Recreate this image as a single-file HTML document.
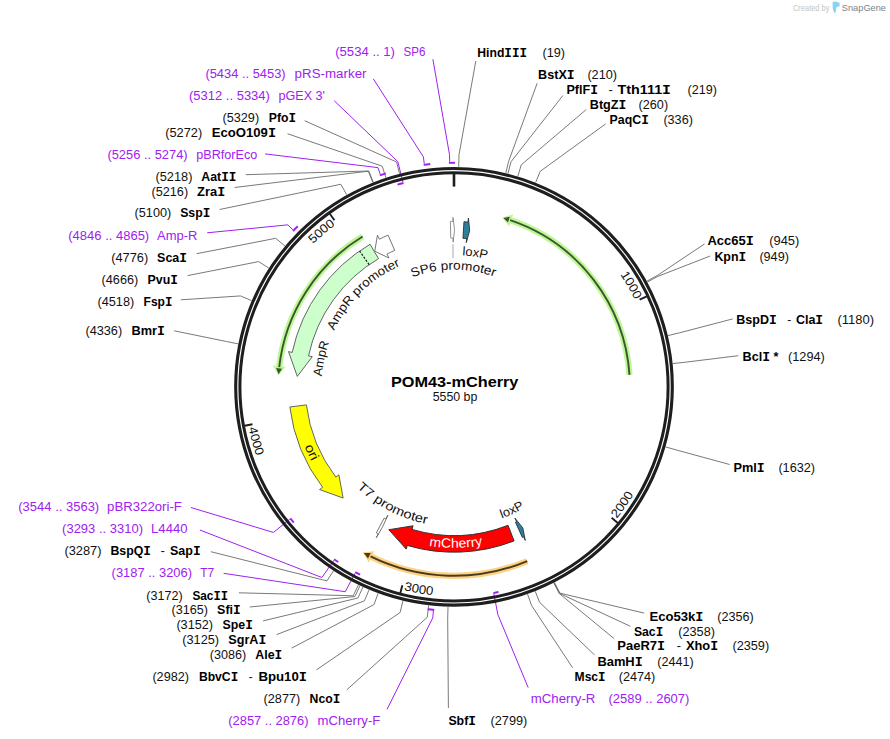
<!DOCTYPE html>
<html><head><meta charset="utf-8"><style>
html,body{margin:0;padding:0;background:#fff;width:890px;height:739px;overflow:hidden}
svg{display:block}
</style></head><body>
<svg width="890" height="739" viewBox="0 0 890 739">
<defs><path id="p1" d="M454.40,186.20 A200.60,200.60 0 0 1 627.52,487.45"/><path id="p2" d="M435.82,595.41 A209.40,209.40 0 0 0 643.75,298.24"/><path id="p3" d="M257.42,458.95 A209.40,209.40 0 0 0 614.77,520.96"/><path id="p4" d="M305.18,239.48 A209.40,209.40 0 0 0 400.83,589.34"/><path id="p5" d="M256.71,423.10 A200.60,200.60 0 0 1 521.21,197.79"/><path id="p6" d="M352.23,328.68 A117.20,117.20 0 0 1 555.22,327.72"/><path id="p7" d="M351.57,303.86 A131.80,131.80 0 0 1 577.05,339.57"/><path id="p8" d="M325.66,419.75 A132.50,132.50 0 0 1 489.63,259.18"/><path id="p9" d="M365.34,485.27 A132.50,132.50 0 0 1 413.06,260.79"/><path id="p10" d="M322.77,293.88 A160.80,160.80 0 0 0 439.15,546.91"/><path id="p11" d="M314.32,392.65 A139.80,139.80 0 0 0 528.91,504.84"/><path id="p12" d="M373.90,501.62 A140.00,140.00 0 0 0 593.49,398.76"/><path id="p13" d="M315.56,469.00 A161.00,161.00 0 0 0 594.40,465.59"/></defs>
<line x1="454.00" y1="173.80" x2="454.00" y2="186.60" stroke="#1e1e1e" stroke-width="2.6"/>
<line x1="646.83" y1="296.33" x2="639.59" y2="299.73" stroke="#1e1e1e" stroke-width="1.9"/>
<line x1="617.81" y1="522.94" x2="611.66" y2="517.83" stroke="#1e1e1e" stroke-width="1.9"/>
<line x1="400.33" y1="592.93" x2="402.34" y2="585.19" stroke="#1e1e1e" stroke-width="1.9"/>
<line x1="244.59" y1="425.76" x2="252.46" y2="424.30" stroke="#1e1e1e" stroke-width="1.9"/>
<line x1="329.78" y1="213.77" x2="334.44" y2="220.27" stroke="#1e1e1e" stroke-width="1.9"/>
<text font-family='"Liberation Sans", sans-serif' font-size="12.3" font-weight="normal" fill="#111" ><textPath href="#p1" startOffset="50%" text-anchor="middle" textLength="29.5" lengthAdjust="spacingAndGlyphs">1000</textPath></text>
<text font-family='"Liberation Sans", sans-serif' font-size="12.3" font-weight="normal" fill="#111" ><textPath href="#p2" startOffset="50%" text-anchor="middle" textLength="29.5" lengthAdjust="spacingAndGlyphs">2000</textPath></text>
<text font-family='"Liberation Sans", sans-serif' font-size="12.3" font-weight="normal" fill="#111" ><textPath href="#p3" startOffset="50%" text-anchor="middle" textLength="29.5" lengthAdjust="spacingAndGlyphs">3000</textPath></text>
<text font-family='"Liberation Sans", sans-serif' font-size="12.3" font-weight="normal" fill="#111" ><textPath href="#p4" startOffset="50%" text-anchor="middle" textLength="29.5" lengthAdjust="spacingAndGlyphs">4000</textPath></text>
<text font-family='"Liberation Sans", sans-serif' font-size="12.3" font-weight="normal" fill="#111" ><textPath href="#p5" startOffset="50%" text-anchor="middle" textLength="29.5" lengthAdjust="spacingAndGlyphs">5000</textPath></text>
<path d="M629.49,374.84 A175.90,175.90 0 0 0 510.10,220.09" fill="none" stroke="#bcf893" stroke-width="6.3"/>
<path d="M511.48,216.01 L504.11,218.19 L508.73,224.16 Z" fill="#bcf893" stroke="#bcf893" stroke-width="2.2" stroke-linejoin="miter"/>
<path d="M629.49,374.84 A175.90,175.90 0 0 0 510.10,220.09" fill="none" stroke="#3f5433" stroke-width="1.9"/>
<path d="M509.88,216.85 L503.37,217.97 L508.00,222.55 Z" fill="#3f5433"/>
<path d="M362.62,236.50 A175.90,175.90 0 0 0 279.20,367.19" fill="none" stroke="#bcf893" stroke-width="6.3"/>
<path d="M274.92,366.71 L278.61,373.46 L283.47,367.67 Z" fill="#bcf893" stroke="#bcf893" stroke-width="2.2" stroke-linejoin="miter"/>
<path d="M362.62,236.50 A175.90,175.90 0 0 0 279.20,367.19" fill="none" stroke="#3f5433" stroke-width="1.9"/>
<path d="M276.08,368.10 L278.55,374.22 L282.05,368.73 Z" fill="#3f5433"/>
<path d="M527.24,561.03 A189.00,189.00 0 0 1 370.56,556.38" fill="none" stroke="#fdd283" stroke-width="6.3"/>
<path d="M368.66,560.24 L364.54,553.29 L372.45,552.52 Z" fill="#fdd283" stroke="#fdd283" stroke-width="2.2" stroke-linejoin="miter"/>
<path d="M527.24,561.03 A189.00,189.00 0 0 1 370.56,556.38" fill="none" stroke="#4a3b1f" stroke-width="1.9"/>
<path d="M368.03,558.48 L363.82,552.90 L370.72,553.11 Z" fill="#4a3b1f"/>
<path d="M370.05,244.29 A165.40,165.40 0 0 0 292.21,352.41 L288.50,351.62 L297.30,376.39 L312.27,356.67 L308.55,355.88 A148.70,148.70 0 0 1 378.53,258.68 Z" fill="#ccffcc" stroke="#555" stroke-width="0.9" stroke-linejoin="miter"/>
<line x1="369.13" y1="264.70" x2="359.60" y2="250.98" stroke="#111" stroke-width="1.2" stroke-dasharray="2.2,1.5"/>
<path d="M388.05,235.12 A165.40,165.40 0 0 0 379.42,239.17 L377.44,235.24 L374.76,251.20 L388.94,258.00 L386.95,254.07 A148.70,148.70 0 0 1 394.71,250.43 Z" fill="#ffffff" stroke="#666" stroke-width="0.9" stroke-linejoin="miter"/>
<path d="M289.83,406.96 A165.40,165.40 0 0 0 322.60,487.26 L319.59,489.57 L343.14,498.04 L338.89,474.81 L335.87,477.12 A148.70,148.70 0 0 1 306.41,404.92 Z" fill="#ffff00" stroke="#555" stroke-width="0.9" stroke-linejoin="miter"/>
<path d="M514.08,540.90 A165.40,165.40 0 0 1 407.30,545.47 L406.23,549.12 L388.87,529.71 L413.09,525.80 L412.02,529.45 A148.70,148.70 0 0 0 508.02,525.34 Z" fill="#ff0000" stroke="#333" stroke-width="1.0" stroke-linejoin="miter"/>
<path d="M463.95,221.70 A165.40,165.40 0 0 1 468.06,222.00 L468.40,218.01 L469.73,230.54 L466.30,242.62 L466.64,238.64 A148.70,148.70 0 0 0 462.95,238.37 Z" fill="#2d7f9c" stroke="#222" stroke-width="0.8" stroke-linejoin="miter"/>
<path d="M450.39,221.44 A165.40,165.40 0 0 1 452.99,221.40 L452.96,217.40 L454.55,229.75 L453.11,242.10 L453.09,238.10 A148.70,148.70 0 0 0 450.76,238.14 Z" fill="#ffffff" stroke="#777" stroke-width="0.8" stroke-linejoin="miter"/>
<path d="M522.33,537.43 A165.40,165.40 0 0 0 523.59,536.85 L525.27,540.48 L522.85,527.96 L514.88,518.07 L516.56,521.70 A148.70,148.70 0 0 1 515.43,522.22 Z" fill="#2d7f9c" stroke="#222" stroke-width="0.8" stroke-linejoin="miter"/>
<path d="M376.35,532.84 A165.40,165.40 0 0 0 378.27,533.84 L376.30,537.67 L382.70,526.73 L387.88,515.17 L385.91,519.00 A148.70,148.70 0 0 1 384.19,518.09 Z" fill="#ffffff" stroke="#555" stroke-width="0.8" stroke-linejoin="miter"/>
<polyline points="458.73,166.85 458.99,154.85 475.80,61.00" fill="none" stroke="#6a6a6a" stroke-width="0.9"/>
<text x="477.30" y="57.00" font-family='"Liberation Sans", sans-serif' font-size="12.5" font-weight="bold" fill="#000" textLength="49.70" lengthAdjust="spacingAndGlyphs">Hind<tspan font-family='"Liberation Mono", monospace' font-size="12.9">I</tspan><tspan font-family='"Liberation Mono", monospace' font-size="12.9">I</tspan><tspan font-family='"Liberation Mono", monospace' font-size="12.9">I</tspan></text>
<text x="542.50" y="57.00" font-family='"Liberation Sans", sans-serif' font-size="12.5" font-weight="normal" fill="#111" textLength="22.50" lengthAdjust="spacingAndGlyphs">(19)</text>
<polyline points="505.81,172.99 508.64,161.33 537.20,83.20" fill="none" stroke="#6a6a6a" stroke-width="0.9"/>
<text x="538.10" y="78.90" font-family='"Liberation Sans", sans-serif' font-size="12.5" font-weight="bold" fill="#000" textLength="36.50" lengthAdjust="spacingAndGlyphs">BstX<tspan font-family='"Liberation Mono", monospace' font-size="12.9">I</tspan></text>
<text x="587.40" y="78.90" font-family='"Liberation Sans", sans-serif' font-size="12.5" font-weight="normal" fill="#111" textLength="29.60" lengthAdjust="spacingAndGlyphs">(210)</text>
<polyline points="507.99,173.53 510.93,161.89 562.90,95.50" fill="none" stroke="#6a6a6a" stroke-width="0.9"/>
<text x="566.40" y="94.00" font-family='"Liberation Sans", sans-serif' font-size="12.5" font-weight="bold" fill="#000" textLength="31.60" lengthAdjust="spacingAndGlyphs">PflF<tspan font-family='"Liberation Mono", monospace' font-size="12.9">I</tspan></text>
<text x="608.60" y="94.00" font-family='"Liberation Sans", sans-serif' font-size="12.5" font-weight="normal" fill="#111" textLength="4.20" lengthAdjust="spacingAndGlyphs">-</text>
<text x="617.50" y="94.00" font-family='"Liberation Sans", sans-serif' font-size="12.5" font-weight="bold" fill="#000" textLength="53.50" lengthAdjust="spacingAndGlyphs">Tth111<tspan font-family='"Liberation Mono", monospace' font-size="12.9">I</tspan></text>
<text x="687.60" y="94.00" font-family='"Liberation Sans", sans-serif' font-size="12.5" font-weight="normal" fill="#111" textLength="29.30" lengthAdjust="spacingAndGlyphs">(219)</text>
<polyline points="517.83,176.26 521.31,164.78 586.30,109.50" fill="none" stroke="#6a6a6a" stroke-width="0.9"/>
<text x="589.80" y="108.70" font-family='"Liberation Sans", sans-serif' font-size="12.5" font-weight="bold" fill="#000" textLength="36.50" lengthAdjust="spacingAndGlyphs">BtgZ<tspan font-family='"Liberation Mono", monospace' font-size="12.9">I</tspan></text>
<text x="638.60" y="108.70" font-family='"Liberation Sans", sans-serif' font-size="12.5" font-weight="normal" fill="#111" textLength="29.50" lengthAdjust="spacingAndGlyphs">(260)</text>
<polyline points="535.68,182.53 540.14,171.38 605.80,123.80" fill="none" stroke="#6a6a6a" stroke-width="0.9"/>
<text x="609.60" y="123.80" font-family='"Liberation Sans", sans-serif' font-size="12.5" font-weight="bold" fill="#000" textLength="39.20" lengthAdjust="spacingAndGlyphs">PaqC<tspan font-family='"Liberation Mono", monospace' font-size="12.9">I</tspan></text>
<text x="663.40" y="123.80" font-family='"Liberation Sans", sans-serif' font-size="12.5" font-weight="normal" fill="#111" textLength="29.50" lengthAdjust="spacingAndGlyphs">(336)</text>
<polyline points="646.97,281.14 657.49,275.38 704.60,243.90" fill="none" stroke="#6a6a6a" stroke-width="0.9"/>
<text x="707.40" y="245.30" font-family='"Liberation Sans", sans-serif' font-size="12.5" font-weight="bold" fill="#000" textLength="46.40" lengthAdjust="spacingAndGlyphs">Acc65<tspan font-family='"Liberation Mono", monospace' font-size="12.9">I</tspan></text>
<text x="769.20" y="245.30" font-family='"Liberation Sans", sans-serif' font-size="12.5" font-weight="normal" fill="#111" textLength="30.10" lengthAdjust="spacingAndGlyphs">(945)</text>
<polyline points="647.44,282.02 658.00,276.30 710.20,256.00" fill="none" stroke="#6a6a6a" stroke-width="0.9"/>
<text x="714.40" y="260.70" font-family='"Liberation Sans", sans-serif' font-size="12.5" font-weight="bold" fill="#000" textLength="31.80" lengthAdjust="spacingAndGlyphs">Kpn<tspan font-family='"Liberation Mono", monospace' font-size="12.9">I</tspan></text>
<text x="759.40" y="260.70" font-family='"Liberation Sans", sans-serif' font-size="12.5" font-weight="normal" fill="#111" textLength="29.50" lengthAdjust="spacingAndGlyphs">(949)</text>
<polyline points="667.96,335.59 679.63,332.80 732.70,318.90" fill="none" stroke="#6a6a6a" stroke-width="0.9"/>
<text x="736.30" y="324.00" font-family='"Liberation Sans", sans-serif' font-size="12.5" font-weight="bold" fill="#000" textLength="40.50" lengthAdjust="spacingAndGlyphs">BspD<tspan font-family='"Liberation Mono", monospace' font-size="12.9">I</tspan></text>
<text x="787.30" y="324.00" font-family='"Liberation Sans", sans-serif' font-size="12.5" font-weight="normal" fill="#111" textLength="4.00" lengthAdjust="spacingAndGlyphs">-</text>
<text x="795.90" y="324.00" font-family='"Liberation Sans", sans-serif' font-size="12.5" font-weight="bold" fill="#000" textLength="27.20" lengthAdjust="spacingAndGlyphs">Cla<tspan font-family='"Liberation Mono", monospace' font-size="12.9">I</tspan></text>
<text x="837.50" y="324.00" font-family='"Liberation Sans", sans-serif' font-size="12.5" font-weight="normal" fill="#111" textLength="36.50" lengthAdjust="spacingAndGlyphs">(1180)</text>
<polyline points="672.77,363.56 684.70,362.29 738.30,355.70" fill="none" stroke="#6a6a6a" stroke-width="0.9"/>
<text x="742.50" y="361.30" font-family='"Liberation Sans", sans-serif' font-size="12.5" font-weight="bold" fill="#000" textLength="36.00" lengthAdjust="spacingAndGlyphs">Bcl<tspan font-family='"Liberation Mono", monospace' font-size="12.9">I</tspan> *</text>
<text x="788.00" y="361.30" font-family='"Liberation Sans", sans-serif' font-size="12.5" font-weight="normal" fill="#111" textLength="36.80" lengthAdjust="spacingAndGlyphs">(1294)</text>
<polyline points="665.63,446.92 677.17,450.20 729.70,464.50" fill="none" stroke="#6a6a6a" stroke-width="0.9"/>
<text x="733.50" y="471.50" font-family='"Liberation Sans", sans-serif' font-size="12.5" font-weight="bold" fill="#000" textLength="31.20" lengthAdjust="spacingAndGlyphs">Pml<tspan font-family='"Liberation Mono", monospace' font-size="12.9">I</tspan></text>
<text x="778.40" y="471.50" font-family='"Liberation Sans", sans-serif' font-size="12.5" font-weight="normal" fill="#111" textLength="36.70" lengthAdjust="spacingAndGlyphs">(1632)</text>
<polyline points="554.49,582.51 559.97,593.18 644.20,613.10" fill="none" stroke="#6a6a6a" stroke-width="0.9"/>
<text x="649.40" y="621.00" font-family='"Liberation Sans", sans-serif' font-size="12.5" font-weight="bold" fill="#000" textLength="54.10" lengthAdjust="spacingAndGlyphs">Eco53k<tspan font-family='"Liberation Mono", monospace' font-size="12.9">I</tspan></text>
<text x="717.20" y="621.00" font-family='"Liberation Sans", sans-serif' font-size="12.5" font-weight="normal" fill="#111" textLength="36.50" lengthAdjust="spacingAndGlyphs">(2356)</text>
<polyline points="554.04,582.74 559.50,593.42 630.40,626.30" fill="none" stroke="#6a6a6a" stroke-width="0.9"/>
<text x="633.90" y="635.60" font-family='"Liberation Sans", sans-serif' font-size="12.5" font-weight="bold" fill="#000" textLength="29.30" lengthAdjust="spacingAndGlyphs">Sac<tspan font-family='"Liberation Mono", monospace' font-size="12.9">I</tspan></text>
<text x="678.30" y="635.60" font-family='"Liberation Sans", sans-serif' font-size="12.5" font-weight="normal" fill="#111" textLength="36.60" lengthAdjust="spacingAndGlyphs">(2358)</text>
<polyline points="553.82,582.85 559.27,593.54 614.10,638.60" fill="none" stroke="#6a6a6a" stroke-width="0.9"/>
<text x="617.30" y="650.20" font-family='"Liberation Sans", sans-serif' font-size="12.5" font-weight="bold" fill="#000" textLength="47.90" lengthAdjust="spacingAndGlyphs">PaeR7<tspan font-family='"Liberation Mono", monospace' font-size="12.9">I</tspan></text>
<text x="676.70" y="650.20" font-family='"Liberation Sans", sans-serif' font-size="12.5" font-weight="normal" fill="#111" textLength="4.20" lengthAdjust="spacingAndGlyphs">-</text>
<text x="685.90" y="650.20" font-family='"Liberation Sans", sans-serif' font-size="12.5" font-weight="bold" fill="#000" textLength="32.20" lengthAdjust="spacingAndGlyphs">Xho<tspan font-family='"Liberation Mono", monospace' font-size="12.9">I</tspan></text>
<text x="732.40" y="650.20" font-family='"Liberation Sans", sans-serif' font-size="12.5" font-weight="normal" fill="#111" textLength="36.80" lengthAdjust="spacingAndGlyphs">(2359)</text>
<polyline points="535.22,591.26 539.65,602.41 594.50,654.90" fill="none" stroke="#6a6a6a" stroke-width="0.9"/>
<text x="597.40" y="665.70" font-family='"Liberation Sans", sans-serif' font-size="12.5" font-weight="bold" fill="#000" textLength="45.30" lengthAdjust="spacingAndGlyphs">BamH<tspan font-family='"Liberation Mono", monospace' font-size="12.9">I</tspan></text>
<text x="657.30" y="665.70" font-family='"Liberation Sans", sans-serif' font-size="12.5" font-weight="normal" fill="#111" textLength="36.50" lengthAdjust="spacingAndGlyphs">(2441)</text>
<polyline points="527.53,594.15 531.54,605.46 572.60,667.80" fill="none" stroke="#6a6a6a" stroke-width="0.9"/>
<text x="574.60" y="680.90" font-family='"Liberation Sans", sans-serif' font-size="12.5" font-weight="bold" fill="#000" textLength="31.00" lengthAdjust="spacingAndGlyphs">Msc<tspan font-family='"Liberation Mono", monospace' font-size="12.9">I</tspan></text>
<text x="618.70" y="680.90" font-family='"Liberation Sans", sans-serif' font-size="12.5" font-weight="normal" fill="#111" textLength="36.60" lengthAdjust="spacingAndGlyphs">(2474)</text>
<polyline points="448.02,606.72 447.70,618.71 448.40,708.00" fill="none" stroke="#6a6a6a" stroke-width="0.9"/>
<text x="448.40" y="724.90" font-family='"Liberation Sans", sans-serif' font-size="12.5" font-weight="bold" fill="#000" textLength="27.50" lengthAdjust="spacingAndGlyphs">Sbf<tspan font-family='"Liberation Mono", monospace' font-size="12.9">I</tspan></text>
<text x="490.50" y="724.90" font-family='"Liberation Sans", sans-serif' font-size="12.5" font-weight="normal" fill="#111" textLength="36.80" lengthAdjust="spacingAndGlyphs">(2799)</text>
<polyline points="428.65,605.33 427.27,617.25 346.70,689.90" fill="none" stroke="#6a6a6a" stroke-width="0.9"/>
<text x="263.60" y="702.70" font-family='"Liberation Sans", sans-serif' font-size="12.5" font-weight="normal" fill="#111" textLength="36.60" lengthAdjust="spacingAndGlyphs">(2877)</text>
<text x="309.60" y="702.70" font-family='"Liberation Sans", sans-serif' font-size="12.5" font-weight="bold" fill="#000" textLength="30.70" lengthAdjust="spacingAndGlyphs">Nco<tspan font-family='"Liberation Mono", monospace' font-size="12.9">I</tspan></text>
<polyline points="402.91,600.79 400.13,612.46 316.40,669.90" fill="none" stroke="#6a6a6a" stroke-width="0.9"/>
<text x="152.40" y="680.70" font-family='"Liberation Sans", sans-serif' font-size="12.5" font-weight="normal" fill="#111" textLength="36.60" lengthAdjust="spacingAndGlyphs">(2982)</text>
<text x="198.90" y="680.70" font-family='"Liberation Sans", sans-serif' font-size="12.5" font-weight="bold" fill="#000" textLength="39.30" lengthAdjust="spacingAndGlyphs">BbvC<tspan font-family='"Liberation Mono", monospace' font-size="12.9">I</tspan></text>
<text x="248.80" y="680.70" font-family='"Liberation Sans", sans-serif' font-size="12.5" font-weight="normal" fill="#111" textLength="3.80" lengthAdjust="spacingAndGlyphs">-</text>
<text x="258.40" y="680.70" font-family='"Liberation Sans", sans-serif' font-size="12.5" font-weight="bold" fill="#000" textLength="48.60" lengthAdjust="spacingAndGlyphs">Bpu10<tspan font-family='"Liberation Mono", monospace' font-size="12.9">I</tspan></text>
<polyline points="378.13,593.30 373.99,604.57 291.70,648.10" fill="none" stroke="#6a6a6a" stroke-width="0.9"/>
<text x="209.70" y="658.70" font-family='"Liberation Sans", sans-serif' font-size="12.5" font-weight="normal" fill="#111" textLength="36.40" lengthAdjust="spacingAndGlyphs">(3086)</text>
<text x="255.30" y="658.70" font-family='"Liberation Sans", sans-serif' font-size="12.5" font-weight="bold" fill="#000" textLength="26.90" lengthAdjust="spacingAndGlyphs">Ale<tspan font-family='"Liberation Mono", monospace' font-size="12.9">I</tspan></text>
<polyline points="369.09,589.75 364.46,600.82 276.60,634.60" fill="none" stroke="#6a6a6a" stroke-width="0.9"/>
<text x="182.20" y="643.60" font-family='"Liberation Sans", sans-serif' font-size="12.5" font-weight="normal" fill="#111" textLength="36.90" lengthAdjust="spacingAndGlyphs">(3125)</text>
<text x="228.30" y="643.60" font-family='"Liberation Sans", sans-serif' font-size="12.5" font-weight="bold" fill="#000" textLength="38.00" lengthAdjust="spacingAndGlyphs">SgrA<tspan font-family='"Liberation Mono", monospace' font-size="12.9">I</tspan></text>
<polyline points="362.93,587.06 357.96,597.99 263.10,620.90" fill="none" stroke="#6a6a6a" stroke-width="0.9"/>
<text x="176.40" y="628.80" font-family='"Liberation Sans", sans-serif' font-size="12.5" font-weight="normal" fill="#111" textLength="36.60" lengthAdjust="spacingAndGlyphs">(3152)</text>
<text x="222.50" y="628.80" font-family='"Liberation Sans", sans-serif' font-size="12.5" font-weight="bold" fill="#000" textLength="30.30" lengthAdjust="spacingAndGlyphs">Spe<tspan font-family='"Liberation Mono", monospace' font-size="12.9">I</tspan></text>
<polyline points="359.99,585.70 354.86,596.55 249.70,607.00" fill="none" stroke="#6a6a6a" stroke-width="0.9"/>
<text x="171.50" y="614.20" font-family='"Liberation Sans", sans-serif' font-size="12.5" font-weight="normal" fill="#111" textLength="36.40" lengthAdjust="spacingAndGlyphs">(3165)</text>
<text x="217.10" y="614.20" font-family='"Liberation Sans", sans-serif' font-size="12.5" font-weight="bold" fill="#000" textLength="23.60" lengthAdjust="spacingAndGlyphs">Sfi<tspan font-family='"Liberation Mono", monospace' font-size="12.9">I</tspan></text>
<polyline points="358.42,584.95 353.20,595.76 238.90,592.80" fill="none" stroke="#6a6a6a" stroke-width="0.9"/>
<text x="146.30" y="599.60" font-family='"Liberation Sans", sans-serif' font-size="12.5" font-weight="normal" fill="#111" textLength="36.40" lengthAdjust="spacingAndGlyphs">(3172)</text>
<text x="192.40" y="599.60" font-family='"Liberation Sans", sans-serif' font-size="12.5" font-weight="bold" fill="#000" textLength="35.70" lengthAdjust="spacingAndGlyphs">Sac<tspan font-family='"Liberation Mono", monospace' font-size="12.9">I</tspan><tspan font-family='"Liberation Mono", monospace' font-size="12.9">I</tspan></text>
<polyline points="333.50,570.87 326.93,580.91 210.80,551.70" fill="none" stroke="#6a6a6a" stroke-width="0.9"/>
<text x="64.40" y="554.70" font-family='"Liberation Sans", sans-serif' font-size="12.5" font-weight="normal" fill="#111" textLength="37.10" lengthAdjust="spacingAndGlyphs">(3287)</text>
<text x="110.40" y="554.70" font-family='"Liberation Sans", sans-serif' font-size="12.5" font-weight="bold" fill="#000" textLength="40.50" lengthAdjust="spacingAndGlyphs">BspQ<tspan font-family='"Liberation Mono", monospace' font-size="12.9">I</tspan></text>
<text x="160.60" y="554.70" font-family='"Liberation Sans", sans-serif' font-size="12.5" font-weight="normal" fill="#111" textLength="4.40" lengthAdjust="spacingAndGlyphs">-</text>
<text x="170.00" y="554.70" font-family='"Liberation Sans", sans-serif' font-size="12.5" font-weight="bold" fill="#000" textLength="30.70" lengthAdjust="spacingAndGlyphs">Sap<tspan font-family='"Liberation Mono", monospace' font-size="12.9">I</tspan></text>
<polyline points="238.23,343.86 226.46,341.52 174.20,330.80" fill="none" stroke="#6a6a6a" stroke-width="0.9"/>
<text x="85.40" y="335.10" font-family='"Liberation Sans", sans-serif' font-size="12.5" font-weight="normal" fill="#111" textLength="36.80" lengthAdjust="spacingAndGlyphs">(4336)</text>
<text x="131.50" y="335.10" font-family='"Liberation Sans", sans-serif' font-size="12.5" font-weight="bold" fill="#000" textLength="33.40" lengthAdjust="spacingAndGlyphs">Bmr<tspan font-family='"Liberation Mono", monospace' font-size="12.9">I</tspan></text>
<polyline points="251.58,300.63 240.54,295.93 180.90,299.80" fill="none" stroke="#6a6a6a" stroke-width="0.9"/>
<text x="97.50" y="306.10" font-family='"Liberation Sans", sans-serif' font-size="12.5" font-weight="normal" fill="#111" textLength="36.70" lengthAdjust="spacingAndGlyphs">(4518)</text>
<text x="143.60" y="306.10" font-family='"Liberation Sans", sans-serif' font-size="12.5" font-weight="bold" fill="#000" textLength="28.80" lengthAdjust="spacingAndGlyphs">Fsp<tspan font-family='"Liberation Mono", monospace' font-size="12.9">I</tspan></text>
<polyline points="268.78,268.08 258.68,261.60 187.60,275.60" fill="none" stroke="#6a6a6a" stroke-width="0.9"/>
<text x="101.60" y="283.70" font-family='"Liberation Sans", sans-serif' font-size="12.5" font-weight="normal" fill="#111" textLength="36.60" lengthAdjust="spacingAndGlyphs">(4666)</text>
<text x="147.60" y="283.70" font-family='"Liberation Sans", sans-serif' font-size="12.5" font-weight="bold" fill="#000" textLength="30.40" lengthAdjust="spacingAndGlyphs">Pvu<tspan font-family='"Liberation Mono", monospace' font-size="12.9">I</tspan></text>
<polyline points="284.96,245.99 275.74,238.31 196.60,253.70" fill="none" stroke="#6a6a6a" stroke-width="0.9"/>
<text x="111.20" y="262.00" font-family='"Liberation Sans", sans-serif' font-size="12.5" font-weight="normal" fill="#111" textLength="37.10" lengthAdjust="spacingAndGlyphs">(4776)</text>
<text x="157.10" y="262.00" font-family='"Liberation Sans", sans-serif' font-size="12.5" font-weight="bold" fill="#000" textLength="29.90" lengthAdjust="spacingAndGlyphs">Sca<tspan font-family='"Liberation Mono", monospace' font-size="12.9">I</tspan></text>
<polyline points="346.71,194.74 340.85,184.26 219.60,209.50" fill="none" stroke="#6a6a6a" stroke-width="0.9"/>
<text x="134.60" y="217.40" font-family='"Liberation Sans", sans-serif' font-size="12.5" font-weight="normal" fill="#111" textLength="36.60" lengthAdjust="spacingAndGlyphs">(5100)</text>
<text x="180.20" y="217.40" font-family='"Liberation Sans", sans-serif' font-size="12.5" font-weight="bold" fill="#000" textLength="30.10" lengthAdjust="spacingAndGlyphs">Ssp<tspan font-family='"Liberation Mono", monospace' font-size="12.9">I</tspan></text>
<polyline points="372.78,182.34 368.35,171.19 234.60,187.50" fill="none" stroke="#6a6a6a" stroke-width="0.9"/>
<text x="151.50" y="196.00" font-family='"Liberation Sans", sans-serif' font-size="12.5" font-weight="normal" fill="#111" textLength="36.60" lengthAdjust="spacingAndGlyphs">(5216)</text>
<text x="197.10" y="196.00" font-family='"Liberation Sans", sans-serif' font-size="12.5" font-weight="bold" fill="#000" textLength="28.10" lengthAdjust="spacingAndGlyphs">Zra<tspan font-family='"Liberation Mono", monospace' font-size="12.9">I</tspan></text>
<polyline points="373.24,182.16 368.84,171.00 245.80,174.70" fill="none" stroke="#6a6a6a" stroke-width="0.9"/>
<text x="155.50" y="181.20" font-family='"Liberation Sans", sans-serif' font-size="12.5" font-weight="normal" fill="#111" textLength="36.90" lengthAdjust="spacingAndGlyphs">(5218)</text>
<text x="201.30" y="181.20" font-family='"Liberation Sans", sans-serif' font-size="12.5" font-weight="bold" fill="#000" textLength="35.10" lengthAdjust="spacingAndGlyphs">Aat<tspan font-family='"Liberation Mono", monospace' font-size="12.9">I</tspan><tspan font-family='"Liberation Mono", monospace' font-size="12.9">I</tspan></text>
<polyline points="385.90,177.61 382.18,166.20 287.50,133.70" fill="none" stroke="#6a6a6a" stroke-width="0.9"/>
<text x="165.20" y="136.90" font-family='"Liberation Sans", sans-serif' font-size="12.5" font-weight="normal" fill="#111" textLength="37.00" lengthAdjust="spacingAndGlyphs">(5272)</text>
<text x="211.70" y="136.90" font-family='"Liberation Sans", sans-serif' font-size="12.5" font-weight="bold" fill="#000" textLength="64.40" lengthAdjust="spacingAndGlyphs">EcoO109<tspan font-family='"Liberation Mono", monospace' font-size="12.9">I</tspan></text>
<polyline points="399.53,173.65 396.56,162.02 304.70,120.70" fill="none" stroke="#6a6a6a" stroke-width="0.9"/>
<text x="222.50" y="121.90" font-family='"Liberation Sans", sans-serif' font-size="12.5" font-weight="normal" fill="#111" textLength="36.60" lengthAdjust="spacingAndGlyphs">(5329)</text>
<text x="268.80" y="121.90" font-family='"Liberation Sans", sans-serif' font-size="12.5" font-weight="bold" fill="#000" textLength="27.20" lengthAdjust="spacingAndGlyphs">Pfo<tspan font-family='"Liberation Mono", monospace' font-size="12.9">I</tspan></text>
<path d="M448.91,162.86 A224.00,224.00 0 0 1 455.04,162.80" fill="none" stroke="#a020f0" stroke-width="1.9"/>
<polyline points="449.67,161.84 449.54,154.84 432.90,59.30" fill="none" stroke="#a020f0" stroke-width="1.0"/>
<text x="335.20" y="56.00" font-family='"Liberation Sans", sans-serif' font-size="12.5" font-weight="normal" fill="#a020f0" textLength="59.80" lengthAdjust="spacingAndGlyphs">(5534 .. 1)</text>
<text x="403.50" y="56.00" font-family='"Liberation Sans", sans-serif' font-size="12.5" font-weight="normal" fill="#a020f0" textLength="21.90" lengthAdjust="spacingAndGlyphs">SP6</text>
<path d="M423.64,164.87 A224.00,224.00 0 0 1 430.23,164.06" fill="none" stroke="#a020f0" stroke-width="1.9"/>
<polyline points="424.28,163.77 423.36,156.83 373.30,78.80" fill="none" stroke="#a020f0" stroke-width="1.0"/>
<text x="205.40" y="78.00" font-family='"Liberation Sans", sans-serif' font-size="12.5" font-weight="normal" fill="#a020f0" textLength="80.20" lengthAdjust="spacingAndGlyphs">(5434 .. 5453)</text>
<text x="294.60" y="78.00" font-family='"Liberation Sans", sans-serif' font-size="12.5" font-weight="normal" fill="#a020f0" textLength="71.90" lengthAdjust="spacingAndGlyphs">pRS-marker</text>
<path d="M397.52,184.54 A210.00,210.00 0 0 1 403.51,182.96" fill="none" stroke="#a020f0" stroke-width="1.9"/>
<polyline points="402.92,182.08 397.83,161.70 334.20,100.70" fill="none" stroke="#a020f0" stroke-width="1.0"/>
<text x="189.00" y="99.80" font-family='"Liberation Sans", sans-serif' font-size="12.5" font-weight="normal" fill="#a020f0" textLength="80.90" lengthAdjust="spacingAndGlyphs">(5312 .. 5334)</text>
<text x="278.40" y="99.80" font-family='"Liberation Sans", sans-serif' font-size="12.5" font-weight="normal" fill="#a020f0" textLength="46.60" lengthAdjust="spacingAndGlyphs">pGEX 3'</text>
<path d="M379.84,175.43 A224.00,224.00 0 0 1 385.89,173.41" fill="none" stroke="#a020f0" stroke-width="1.9"/>
<polyline points="380.25,174.23 377.95,167.62 265.10,153.90" fill="none" stroke="#a020f0" stroke-width="1.0"/>
<text x="107.40" y="159.20" font-family='"Liberation Sans", sans-serif' font-size="12.5" font-weight="normal" fill="#a020f0" textLength="80.20" lengthAdjust="spacingAndGlyphs">(5256 .. 5274)</text>
<text x="196.20" y="159.20" font-family='"Liberation Sans", sans-serif' font-size="12.5" font-weight="normal" fill="#a020f0" textLength="61.10" lengthAdjust="spacingAndGlyphs">pBRforEco</text>
<path d="M293.06,231.00 A224.00,224.00 0 0 1 297.74,226.30" fill="none" stroke="#a020f0" stroke-width="1.9"/>
<polyline points="292.89,229.74 287.88,224.85 207.20,232.80" fill="none" stroke="#a020f0" stroke-width="1.0"/>
<text x="68.30" y="240.20" font-family='"Liberation Sans", sans-serif' font-size="12.5" font-weight="normal" fill="#a020f0" textLength="80.90" lengthAdjust="spacingAndGlyphs">(4846 .. 4865)</text>
<text x="157.10" y="240.20" font-family='"Liberation Sans", sans-serif' font-size="12.5" font-weight="normal" fill="#a020f0" textLength="40.40" lengthAdjust="spacingAndGlyphs">Amp-R</text>
<path d="M293.80,522.58 A210.00,210.00 0 0 1 290.31,518.35" fill="none" stroke="#a020f0" stroke-width="1.9"/>
<polyline points="289.76,519.26 273.41,532.44 190.90,507.50" fill="none" stroke="#a020f0" stroke-width="1.0"/>
<text x="18.30" y="511.30" font-family='"Liberation Sans", sans-serif' font-size="12.5" font-weight="normal" fill="#a020f0" textLength="80.90" lengthAdjust="spacingAndGlyphs">(3544 .. 3563)</text>
<text x="107.10" y="511.30" font-family='"Liberation Sans", sans-serif' font-size="12.5" font-weight="normal" fill="#a020f0" textLength="74.80" lengthAdjust="spacingAndGlyphs">pBR322ori-F</text>
<path d="M338.29,562.05 A210.00,210.00 0 0 1 334.14,559.24" fill="none" stroke="#a020f0" stroke-width="1.9"/>
<polyline points="333.87,560.27 321.92,577.53 199.90,530.00" fill="none" stroke="#a020f0" stroke-width="1.0"/>
<text x="62.10" y="532.70" font-family='"Liberation Sans", sans-serif' font-size="12.5" font-weight="normal" fill="#a020f0" textLength="80.90" lengthAdjust="spacingAndGlyphs">(3293 .. 3310)</text>
<text x="151.10" y="532.70" font-family='"Liberation Sans", sans-serif' font-size="12.5" font-weight="normal" fill="#a020f0" textLength="36.40" lengthAdjust="spacingAndGlyphs">L4440</text>
<path d="M360.10,574.64 A210.00,210.00 0 0 1 355.23,572.12" fill="none" stroke="#a020f0" stroke-width="1.9"/>
<polyline points="355.08,573.18 345.24,591.73 223.60,573.30" fill="none" stroke="#a020f0" stroke-width="1.0"/>
<text x="111.60" y="576.60" font-family='"Liberation Sans", sans-serif' font-size="12.5" font-weight="normal" fill="#a020f0" textLength="80.40" lengthAdjust="spacingAndGlyphs">(3187 .. 3206)</text>
<text x="200.20" y="576.60" font-family='"Liberation Sans", sans-serif' font-size="12.5" font-weight="normal" fill="#a020f0" textLength="14.00" lengthAdjust="spacingAndGlyphs">T7</text>
<path d="M434.27,609.93 A224.00,224.00 0 0 1 427.67,609.25" fill="none" stroke="#a020f0" stroke-width="1.9"/>
<polyline points="433.40,610.85 432.76,617.83 387.00,709.40" fill="none" stroke="#a020f0" stroke-width="1.0"/>
<text x="228.30" y="724.90" font-family='"Liberation Sans", sans-serif' font-size="12.5" font-weight="normal" fill="#a020f0" textLength="80.20" lengthAdjust="spacingAndGlyphs">(2857 .. 2876)</text>
<text x="317.50" y="724.90" font-family='"Liberation Sans", sans-serif' font-size="12.5" font-weight="normal" fill="#a020f0" textLength="62.80" lengthAdjust="spacingAndGlyphs">mCherry-F</text>
<path d="M498.48,592.03 A210.00,210.00 0 0 1 493.34,593.08" fill="none" stroke="#a020f0" stroke-width="1.9"/>
<polyline points="493.89,594.00 497.86,614.62 528.20,687.60" fill="none" stroke="#a020f0" stroke-width="1.0"/>
<text x="530.80" y="702.80" font-family='"Liberation Sans", sans-serif' font-size="12.5" font-weight="normal" fill="#a020f0" textLength="64.60" lengthAdjust="spacingAndGlyphs">mCherry-R</text>
<text x="608.50" y="702.80" font-family='"Liberation Sans", sans-serif' font-size="12.5" font-weight="normal" fill="#a020f0" textLength="80.90" lengthAdjust="spacingAndGlyphs">(2589 .. 2607)</text>
<circle cx="454.0" cy="386.8" r="218.3" fill="none" stroke="#1e1e1e" stroke-width="3.1"/>
<circle cx="454.0" cy="386.8" r="214.1" fill="none" stroke="#1e1e1e" stroke-width="3.0"/>
<text font-family='"Liberation Sans", sans-serif' font-size="12.5" font-weight="normal" fill="#111" ><textPath href="#p6" startOffset="50%" text-anchor="middle" textLength="84" lengthAdjust="spacingAndGlyphs">SP6 promoter</textPath></text>
<line x1="453" y1="244.3" x2="453" y2="258.3" stroke="#aaa" stroke-width="1"/>
<text font-family='"Liberation Sans", sans-serif' font-size="12.5" font-weight="normal" fill="#111" ><textPath href="#p7" startOffset="50%" text-anchor="middle" textLength="25" lengthAdjust="spacingAndGlyphs">loxP</textPath></text>
<text font-family='"Liberation Sans", sans-serif' font-size="12.5" font-weight="normal" fill="#111" ><textPath href="#p8" startOffset="50%" text-anchor="middle" textLength="95" lengthAdjust="spacingAndGlyphs">AmpR promoter</textPath></text>
<text font-family='"Liberation Sans", sans-serif' font-size="12.5" font-weight="normal" fill="#111" ><textPath href="#p9" startOffset="50%" text-anchor="middle" textLength="35" lengthAdjust="spacingAndGlyphs">AmpR</textPath></text>
<text font-family='"Liberation Sans", sans-serif' font-size="13.0" font-weight="normal" fill="#111" ><textPath href="#p10" startOffset="50%" text-anchor="middle" textLength="16.5" lengthAdjust="spacingAndGlyphs">ori</textPath></text>
<text font-family='"Liberation Sans", sans-serif' font-size="12.5" font-weight="normal" fill="#111" ><textPath href="#p11" startOffset="50%" text-anchor="middle" textLength="80" lengthAdjust="spacingAndGlyphs">T7 promoter</textPath></text>
<text font-family='"Liberation Sans", sans-serif' font-size="12.5" font-weight="normal" fill="#111" ><textPath href="#p12" startOffset="50%" text-anchor="middle" textLength="25" lengthAdjust="spacingAndGlyphs">loxP</textPath></text>
<text font-family='"Liberation Sans", sans-serif' font-size="13.2" font-weight="normal" fill="#fff" ><textPath href="#p13" startOffset="50%" text-anchor="middle" textLength="54" lengthAdjust="spacingAndGlyphs">mCherry</textPath></text>
<text x="454.7" y="386.9" font-family='"Liberation Sans", sans-serif' font-size="14.2" font-weight="bold" fill="#000" text-anchor="middle" textLength="127.5" lengthAdjust="spacingAndGlyphs">POM43-mCherry</text>
<text x="455" y="401.2" font-family='"Liberation Sans", sans-serif' font-size="12.2" fill="#111" text-anchor="middle" textLength="44.7" lengthAdjust="spacingAndGlyphs">5550 bp</text>
<text x="793" y="10.9" font-family='"Liberation Sans", sans-serif' font-size="8.4" fill="#c4c4c4" textLength="36.4" lengthAdjust="spacingAndGlyphs">Created by</text>
<path d="M832.7,1.7 L836.9,1.7 L839.6,2.9 L839.6,6.2 L836.7,7.1 L835.3,12.8 L834.1,12.8 L832.7,8.2 Z" fill="#86d3f5"/>
<text x="841.8" y="10.9" font-family='"Liberation Sans", sans-serif' font-size="9.2" fill="#7b8189" textLength="44.2" lengthAdjust="spacingAndGlyphs">SnapGene</text>
</svg></body></html>
